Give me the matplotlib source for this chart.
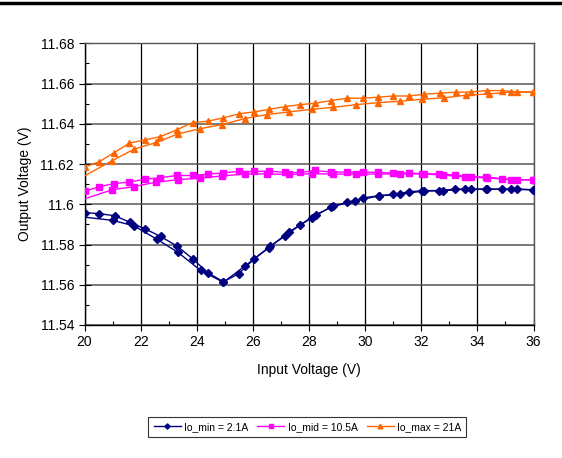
import matplotlib
matplotlib.use("Agg")
import matplotlib.pyplot as plt
from matplotlib.lines import Line2D
from matplotlib.ticker import MultipleLocator, FuncFormatter

plt.rcParams['font.family'] = ['Liberation Sans', 'DejaVu Sans']

# Io_min = 2.1A, two sweeps
vin_min_a = [20, 20.53, 21.08, 21.62, 22.17, 22.71, 23.31, 23.86, 24.4, 24.95, 25.5, 26.04,
             26.61, 27.16, 27.68, 28.25, 28.8, 29.37, 29.94, 30.48, 31.0, 31.57, 32.1, 32.64,
             33.19, 33.76, 34.31, 34.87, 35.42, 35.98]
vout_min_a = [11.5959, 11.5953, 11.5943, 11.5910, 11.5877, 11.5840, 11.5791, 11.5728, 11.5659,
              11.5615, 11.5655, 11.5728, 11.5791, 11.5844, 11.5897, 11.5949, 11.5985, 11.6009,
              11.6032, 11.6042, 11.6049, 11.6062, 11.6068, 11.6068, 11.6075, 11.6075, 11.6075,
              11.6075, 11.6075, 11.6072]
vin_min_b = [20, 21.0, 21.76, 22.57, 23.33, 24.14, 24.95, 25.73, 26.57, 27.3, 28.11, 28.85,
             29.65, 30.48, 31.24, 32.02, 32.79, 33.56, 34.35, 35.2, 36.0]
vout_min_b = [11.5936, 11.5920, 11.5893, 11.5827, 11.5761, 11.5671, 11.5612, 11.5695, 11.5784,
              11.5864, 11.5933, 11.5993, 11.6016, 11.6042, 11.6049, 11.6065, 11.6068, 11.6075,
              11.6075, 11.6075, 11.6072]

# Io_mid = 10.5A
vin_mid_a = [20, 20.52, 21.06, 21.6, 22.16, 22.7, 23.29, 23.85, 24.4, 24.94, 25.49, 26.04,
             26.59, 27.15, 27.68, 28.23, 28.77, 29.37, 29.94, 30.47, 31.0, 31.57, 32.1, 32.64,
             33.19, 33.76, 34.31, 34.87, 35.42, 35.98]
vout_mid_a = [11.6064, 11.6087, 11.6103, 11.6110, 11.6125, 11.6132, 11.6143, 11.6143, 11.6150,
              11.6156, 11.6163, 11.6163, 11.6165, 11.6158, 11.6158, 11.6168, 11.6160, 11.6160,
              11.6160, 11.6158, 11.6155, 11.6155, 11.6151, 11.6151, 11.6145, 11.6136, 11.6136,
              11.6127, 11.6122, 11.6122]
vin_mid_b = [20, 20.99, 21.77, 22.56, 23.32, 24.13, 24.91, 25.71, 26.51, 27.3, 28.1, 28.87,
             29.67, 30.47, 31.24, 32.02, 32.79, 33.56, 34.35, 35.2, 36.0]
vout_mid_b = [11.6027, 11.6072, 11.6088, 11.6110, 11.6122, 11.6130, 11.6141, 11.6150, 11.6151,
              11.6148, 11.6152, 11.6150, 11.6150, 11.6150, 11.6151, 11.6151, 11.6145, 11.6136,
              11.6131, 11.6122, 11.6120]

# Io_max = 21A
vin_max_a = [20, 20.52, 21.06, 21.6, 22.16, 22.7, 23.29, 23.85, 24.4, 24.94, 25.49, 26.04,
             26.59, 27.15, 27.68, 28.23, 28.77, 29.37, 29.94, 30.47, 31.0, 31.56, 32.11, 32.67,
             33.23, 33.78, 34.33, 34.88, 35.42, 35.97]
vout_max_a = [11.6185, 11.6211, 11.6257, 11.6304, 11.6320, 11.6336, 11.6370, 11.6406, 11.6413,
              11.6429, 11.6449, 11.6459, 11.6472, 11.6485, 11.6495, 11.6502, 11.6515, 11.6527,
              11.6527, 11.6532, 11.6538, 11.6538, 11.6547, 11.6552, 11.6557, 11.6558, 11.6565,
              11.6565, 11.6558, 11.6558]
vin_max_b = [20, 20.99, 21.77, 22.56, 23.34, 24.13, 24.91, 25.71, 26.51, 27.3, 28.1, 28.87,
             29.67, 30.47, 31.24, 32.04, 32.81, 33.6, 34.4, 35.19, 36.0]
vout_max_b = [11.6141, 11.6217, 11.6274, 11.6307, 11.6350, 11.6376, 11.6396, 11.6426, 11.6446,
              11.6459, 11.6472, 11.6482, 11.6495, 11.6505, 11.6512, 11.6522, 11.6529, 11.6542,
              11.6548, 11.6558, 11.6556]

labels = ["Io_min = 2.1A", "Io_mid = 10.5A", "Io_max = 21A"]
colors = ["#000080", "#FF00FF", "#FF6600"]
markers = ["D", "s", "^"]
msizes = [3.8, 3.8, 4.8]

fig = plt.figure(figsize=(5.62, 4.58), dpi=100)
ax = fig.add_axes([0.1504, 0.2904, 0.7989, 0.6151])

series = [
    (vin_min_a, vout_min_a, vin_min_b, vout_min_b),
    (vin_mid_a, vout_mid_a, vin_mid_b, vout_mid_b),
    (vin_max_a, vout_max_a, vin_max_b, vout_max_b),
]
for (xa, ya, xb, yb), lab, c, m, ms in zip(series, labels, colors, markers, msizes):
    ax.plot(xa, ya, color=c, lw=1, marker=m, ms=ms, label=lab, zorder=3)
    ax.plot(xb, yb, color=c, lw=1, marker=m, ms=ms, markevery=slice(1, None), zorder=3)

ax.set_xlim(20, 36)
ax.set_ylim(11.54, 11.68)
ax.xaxis.set_major_locator(MultipleLocator(2))
ax.xaxis.set_minor_locator(MultipleLocator(1))
ax.yaxis.set_major_locator(MultipleLocator(0.02))
ax.yaxis.set_minor_locator(MultipleLocator(0.01))
ax.yaxis.set_major_formatter(FuncFormatter(lambda v, p: f"{round(v, 2):g}"))
ax.tick_params(which='major', direction='inout', length=8, width=0.8, labelsize=10, color='black')
ax.tick_params(which='minor', direction='in', length=3, width=0.8, color='black')

ax.grid(True, axis='x', which='major', color='black', lw=0.9)
ax.grid(True, axis='y', which='major', color='#555555', lw=1.1)
ax.set_axisbelow(True)
for s in ax.spines.values():
    s.set_color('#555555')
    s.set_linewidth(1)
ax.spines['left'].set_color('black')
ax.spines['bottom'].set_color('black')

ax.set_xlabel("Input Voltage (V)", fontsize=10, labelpad=10)
ax.set_ylabel("Output Voltage (V)", fontsize=10, labelpad=6)

leg = fig.legend(loc='center', bbox_to_anchor=(0.547, 0.068), ncol=3, fontsize=7.5,
                 frameon=True, fancybox=False, edgecolor='black', handlelength=2.6,
                 handletextpad=0.3, columnspacing=0.9, borderpad=0.5, markerscale=0.7)
leg.get_frame().set_linewidth(0.8)

fig.add_artist(Line2D([0, 1], [1 - 2.5 / 458, 1 - 2.5 / 458], color='black', lw=2.5,
                      transform=fig.transFigure))

fig.savefig("out.png", dpi=100)
